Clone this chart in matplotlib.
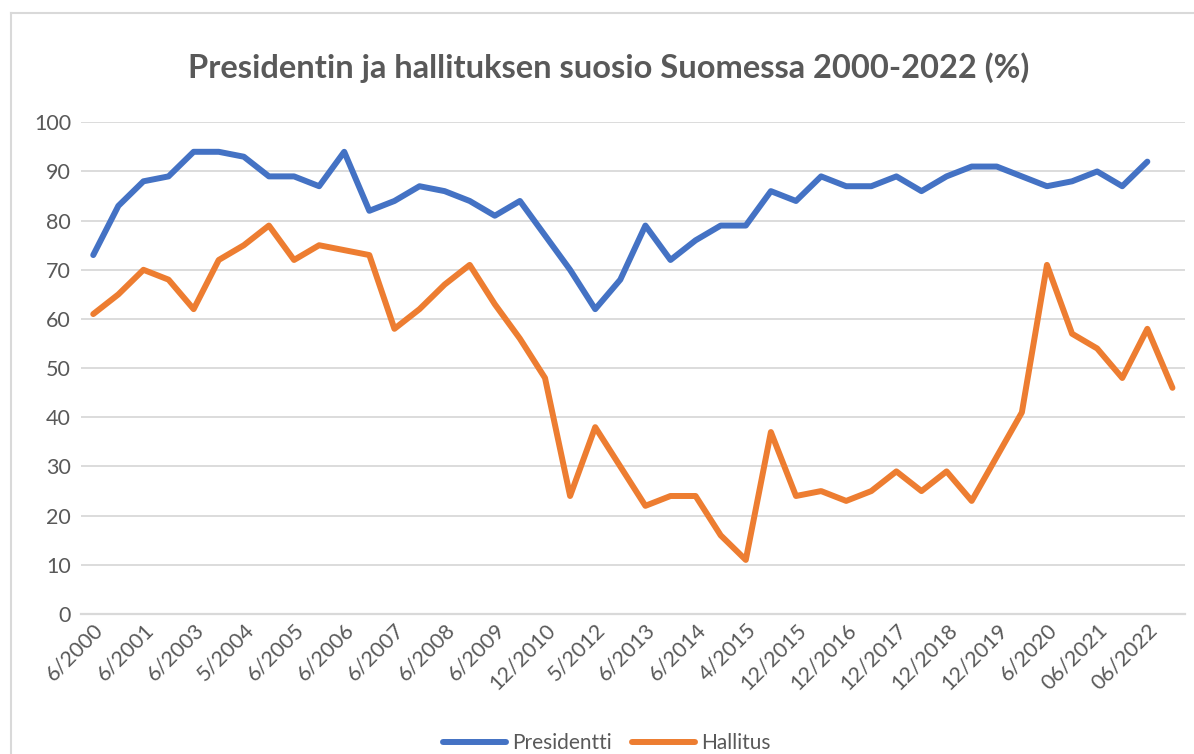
import numpy as np
import matplotlib
matplotlib.use("Agg")
import matplotlib.pyplot as plt
from matplotlib.lines import Line2D

plt.rcParams['font.family'] = ['Lato', 'DejaVu Sans']

title = "Presidentin ja hallituksen suosio Suomessa 2000-2022 (%)"
tick_labels = ["6/2000", "6/2001", "6/2003", "5/2004", "6/2005", "6/2006", "6/2007",
               "6/2008", "6/2009", "12/2010", "5/2012", "6/2013", "6/2014", "4/2015",
               "12/2015", "12/2016", "12/2017", "12/2018", "12/2019", "6/2020",
               "06/2021", "06/2022"]

presidentti = [73, 83, 88, 89, 94, 94, 93, 89, 89, 87, 94, 82, 84, 87, 86, 84, 81, 84,
               77, 70, 62, 68, 79, 72, 76, 79, 79, 86, 84, 89, 87, 87, 89, 86, 89, 91,
               91, 89, 87, 88, 90, 87, 92, np.nan]
hallitus = [61, 65, 70, 68, 62, 72, 75, 79, 72, 75, 74, 73, 58, 62, 67, 71, 63, 56,
            48, 24, 38, 30, 22, 24, 24, 16, 11, 37, 24, 25, 23, 25, 29, 25, 29, 23,
            32, 41, 71, 57, 54, 48, 58, 46]

C_BLUE = "#4472C4"
C_ORANGE = "#ED7D31"
C_TEXT = "#595959"
C_GRID = "#D9D9D9"

W, H = 1194, 754
fig = plt.figure(figsize=(W / 100, H / 100), dpi=100)
fig.patch.set_facecolor("white")

ax = fig.add_axes([80.7 / W, (H - 614) / H, (1185 - 80.7) / W, (614 - 122.3) / H])

x = np.arange(len(hallitus))
lp, = ax.plot(x, presidentti, color=C_BLUE, lw=4.3, solid_joinstyle="round",
              solid_capstyle="round", label="Presidentti", zorder=3)
lh, = ax.plot(x, hallitus, color=C_ORANGE, lw=4.3, solid_joinstyle="round",
              solid_capstyle="round", label="Hallitus", zorder=3)

ax.set_xlim(-0.5, len(hallitus) - 0.5)
ax.set_ylim(0, 100)
ax.set_yticks(np.arange(0, 101, 10))
ax.yaxis.grid(True, color=C_GRID, lw=1.3)
ax.set_axisbelow(True)
ax.set_xticks(np.arange(0, 2 * len(tick_labels), 2))
ax.set_xticklabels(tick_labels, rotation=45, ha="right", rotation_mode="anchor")
ax.tick_params(axis="both", length=0, colors=C_TEXT, labelsize=15.5)
ax.tick_params(axis="y", pad=7)
ax.tick_params(axis="x", pad=4)
for s in ["top", "right", "left"]:
    ax.spines[s].set_visible(False)
ax.spines["bottom"].set_color(C_GRID)
ax.spines["bottom"].set_linewidth(1.6)

fig.text(609 / W, 1 - 68 / H, title, ha="center", va="center", fontsize=23.5,
         fontweight="bold", color=C_TEXT)

fig.legend(handles=[lp, lh], loc="center", bbox_to_anchor=(607 / W, 1 - 743 / H),
           ncol=2, frameon=False, fontsize=15, labelcolor=C_TEXT,
           handlelength=3.0, handletextpad=0.3, columnspacing=1.0)

# chart border (left and top edges visible)
fig.add_artist(Line2D([10.5 / W, 10.5 / W], [0, 1 - 13 / H], transform=fig.transFigure,
                      color=C_GRID, lw=1.5))
fig.add_artist(Line2D([10.5 / W, 1], [1 - 13 / H, 1 - 13 / H], transform=fig.transFigure,
                      color=C_GRID, lw=1.5))

fig.savefig("out.png", dpi=100)
